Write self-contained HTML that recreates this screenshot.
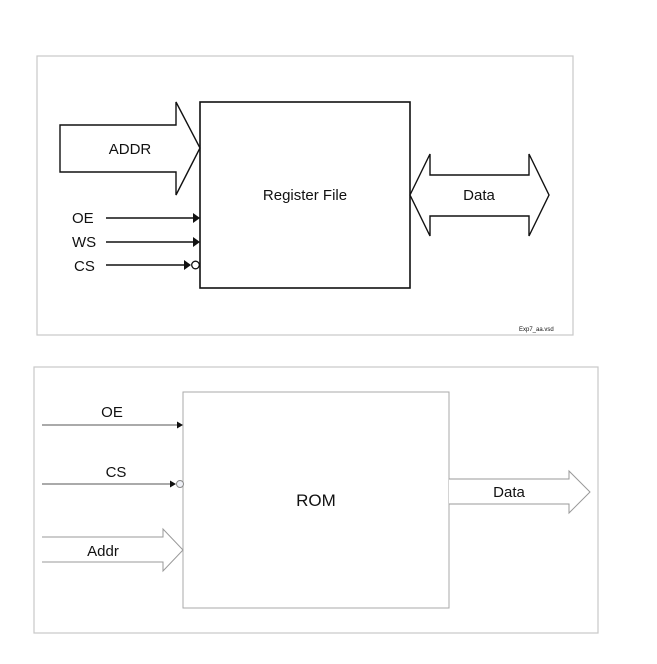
<!DOCTYPE html>
<html><head><style>
html,body{margin:0;padding:0;background:#fff;}
svg{display:block;}
text{font-family:"Liberation Sans",sans-serif;fill:#111;}
</style></head><body>
<svg width="657" height="664" viewBox="0 0 657 664" xmlns="http://www.w3.org/2000/svg">
<rect x="37" y="56" width="536" height="279" fill="#fff" stroke="#c8c8c8" stroke-width="1.2"/>
<rect x="200" y="102" width="210" height="186" fill="#fff" stroke="#111" stroke-width="1.6"/>
<polygon points="60,125 176,125 176,102 200,148 176,195 176,172 60,172" fill="#fff" stroke="#111" stroke-width="1.4"/>
<text x="130" y="154" font-size="15" text-anchor="middle">ADDR</text>
<text x="305" y="200" font-size="15" text-anchor="middle">Register File</text>
<polygon points="410,195 430,154 430,175 529,175 529,154 549,195 529,236 529,216 430,216 430,236" fill="#fff" stroke="#111" stroke-width="1.4"/>
<text x="479" y="200" font-size="15" text-anchor="middle">Data</text>
<g stroke="#111" stroke-width="1.5">
<line x1="106" y1="218" x2="195" y2="218"/>
<line x1="106" y1="242" x2="195" y2="242"/>
<line x1="106" y1="265" x2="188" y2="265"/>
</g>
<polygon points="193,213 200,218 193,223" fill="#111"/>
<polygon points="193,237 200,242 193,247" fill="#111"/>
<polygon points="184,260 191,265 184,270" fill="#111"/>
<circle cx="195.5" cy="265" r="3.8" fill="#fff" stroke="#111" stroke-width="1.3"/>
<text x="72" y="223" font-size="15">OE</text>
<text x="72" y="247" font-size="15">WS</text>
<text x="74" y="271" font-size="15">CS</text>
<text x="519" y="331" font-size="6" fill="#333">Exp7_aa.vsd</text>

<rect x="34" y="367" width="564" height="266" fill="#fff" stroke="#c8c8c8" stroke-width="1.2"/>
<rect x="183" y="392" width="266" height="216" fill="#fff" stroke="#aaa" stroke-width="1"/>
<g stroke="#555" stroke-width="1">
<line x1="42" y1="425" x2="178" y2="425"/>
<line x1="42" y1="484" x2="172" y2="484"/>
</g>
<polygon points="177,421.5 183,425 177,428.5" fill="#111"/>
<polygon points="170,480.5 176,484 170,487.5" fill="#111"/>
<circle cx="180" cy="484" r="3.5" fill="#eef0f6" stroke="#888" stroke-width="1"/>
<text x="112" y="417" font-size="15" text-anchor="middle">OE</text>
<text x="116" y="477" font-size="15" text-anchor="middle">CS</text>
<polyline points="42,537 163,537 163,529 183,550 163,571 163,562 42,562" fill="#fff" stroke="#999" stroke-width="1"/>
<text x="103" y="556" font-size="15" text-anchor="middle">Addr</text>
<polyline points="449,479 569,479 569,471 590,492 569,513 569,504 449,504" fill="#fff" stroke="#999" stroke-width="1"/>
<text x="509" y="497" font-size="15" text-anchor="middle">Data</text>
<text x="316" y="506" font-size="17" text-anchor="middle">ROM</text>
</svg>
</body></html>
